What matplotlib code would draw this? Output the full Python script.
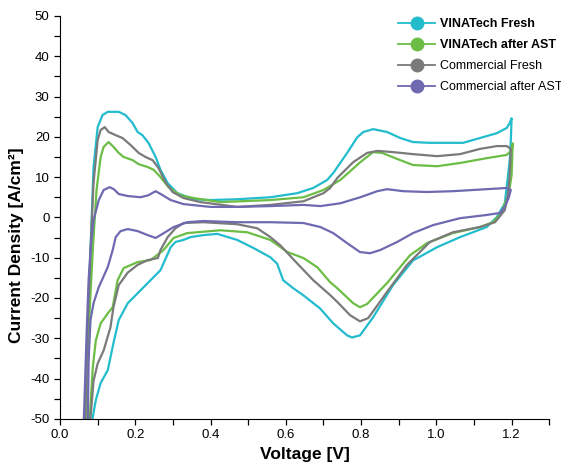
import numpy as np
import matplotlib
matplotlib.use('Agg')
import matplotlib.pyplot as plt

plt.rcParams['font.family'] = ['Liberation Sans', 'DejaVu Sans']
plt.rcParams['axes.unicode_minus'] = False

# CV loops: anodic scan (up) then cathodic scan (back), voltage [V], current density [A/cm2]
vina_fresh_v = [0.071, 0.076, 0.081, 0.089, 0.100, 0.113, 0.127, 0.156, 0.174, 0.193, 0.206, 0.219,
                0.235, 0.254, 0.267, 0.286, 0.312, 0.355, 0.400, 0.471, 0.559, 0.630, 0.673, 0.710,
                0.726, 0.763, 0.790, 0.806, 0.832, 0.869, 0.904, 0.938, 0.983, 1.028, 1.071, 1.116,
                1.161, 1.187, 1.195, 1.200,
                1.198, 1.195, 1.190, 1.182, 1.161, 1.134, 1.063, 1.002, 0.938, 0.885, 0.832, 0.797,
                0.776, 0.763, 0.726, 0.691, 0.646, 0.620, 0.593, 0.577, 0.559, 0.514, 0.471, 0.418,
                0.381, 0.347, 0.328, 0.307, 0.294, 0.267, 0.214, 0.180, 0.156, 0.142, 0.127, 0.108,
                0.095, 0.087, 0.085]
vina_fresh_j = [-51, -28, -8.1, 12.4, 22.4, 25.4, 26.2, 26.2, 25.4, 23.4, 21.2, 20.4,
                18.5, 15.0, 11.8, 8.5, 6.0, 4.5, 4.3, 4.5, 5.0, 6.0, 7.3, 9.3,
                11.0, 16.0, 19.9, 21.2, 21.9, 21.2, 19.7, 18.7, 18.5, 18.5, 18.5, 19.7,
                20.9, 22.2, 23.4, 24.6,
                19.2, 14.2, 10.0, 3.5, 0.1, -2.4, -4.9, -7.4, -10.7, -16.8, -24.8, -29.3,
                -29.8, -29.3, -26.3, -22.6, -19.3, -17.6, -15.6, -11.5, -9.9, -7.6, -5.6, -4.1,
                -4.4, -4.9, -5.6, -6.1, -7.4, -13.1, -18.1, -21.3, -25.5, -31.2, -37.9, -41.1,
                -45.4, -49.6, -51]

vina_ast_v = [0.068, 0.076, 0.087, 0.097, 0.108, 0.116, 0.129, 0.142, 0.156, 0.169, 0.193, 0.209,
              0.233, 0.249, 0.267, 0.288, 0.320, 0.355, 0.426, 0.559, 0.647, 0.700, 0.745, 0.798,
              0.832, 0.856, 0.896, 0.938, 1.002, 1.063, 1.134, 1.187, 1.200, 1.203,
              1.200, 1.192, 1.182, 1.174, 1.150, 1.116, 1.044, 0.975, 0.930, 0.869, 0.816, 0.797,
              0.779, 0.737, 0.718, 0.684, 0.647, 0.604, 0.559, 0.498, 0.426, 0.338, 0.302, 0.275,
              0.241, 0.206, 0.169, 0.153, 0.140, 0.127, 0.108, 0.095, 0.087, 0.079, 0.078]
vina_ast_j = [-51, -28, -8.1, 6.8, 15.0, 17.5, 18.7, 17.5, 16.0, 15.0, 14.2, 13.2,
              12.5, 11.8, 10.0, 7.5, 5.5, 4.8, 3.8, 4.3, 5.0, 6.8, 9.3, 13.7,
              16.2, 16.0, 14.5, 13.0, 12.7, 13.5, 14.7, 15.5, 16.7, 18.4,
              10.5, 5.5, 3.5, 1.1, -1.2, -2.4, -3.9, -6.4, -9.4, -16.3, -21.5, -22.3,
              -21.3, -17.6, -16.1, -12.4, -10.1, -8.6, -5.6, -3.7, -3.2, -3.9, -5.1, -8.1,
              -10.6, -11.1, -12.6, -15.6, -22.3, -23.8, -26.3, -30.6, -37.3, -49.8, -51]

comm_fresh_v = [0.066, 0.073, 0.081, 0.089, 0.100, 0.108, 0.119, 0.129, 0.148, 0.166, 0.187, 0.209,
                0.227, 0.246, 0.262, 0.280, 0.299, 0.328, 0.373, 0.471, 0.559, 0.647, 0.700, 0.718,
                0.737, 0.779, 0.816, 0.843, 0.885, 0.938, 1.002, 1.063, 1.116, 1.161, 1.187, 1.198,
                1.195, 1.190, 1.182, 1.156, 1.116, 1.044, 0.983, 0.922, 0.869, 0.819, 0.797, 0.771,
                0.737, 0.718, 0.673, 0.630, 0.585, 0.559, 0.524, 0.471, 0.381, 0.328, 0.307, 0.286,
                0.267, 0.260, 0.233, 0.206, 0.180, 0.156, 0.142, 0.134, 0.116, 0.100, 0.089, 0.081,
                0.080]
comm_fresh_j = [-51, -28, -8.2, 8.5, 19.2, 21.7, 22.4, 21.2, 20.4, 19.7, 18.0, 16.0,
                15.0, 14.2, 12.2, 8.8, 6.3, 4.8, 3.8, 2.6, 3.1, 4.0, 6.0, 7.3,
                9.8, 13.7, 16.0, 16.5, 16.2, 15.7, 15.2, 15.7, 17.0, 17.7, 17.7, 17.0,
                10.5, 5.5, 1.8, -1.2, -2.4, -3.7, -6.1, -11.8, -18.5, -25.0, -25.8, -24.3,
                -21.0, -19.3, -15.6, -11.4, -6.9, -4.9, -2.7, -1.7, -1.2, -1.4, -2.7, -4.9,
                -8.1, -10.1, -10.6, -11.8, -13.7, -16.8, -22.3, -27.3, -33.0, -36.3, -40.6, -49.8,
                -51]

comm_ast_v = [0.063, 0.071, 0.076, 0.081, 0.089, 0.103, 0.116, 0.132, 0.143, 0.156, 0.180, 0.214,
              0.235, 0.254, 0.273, 0.294, 0.328, 0.400, 0.471, 0.559, 0.647, 0.692, 0.745, 0.798,
              0.843, 0.869, 0.912, 0.975, 1.044, 1.134, 1.187, 1.198,
              1.192, 1.182, 1.169, 1.134, 1.063, 0.992, 0.938, 0.896, 0.851, 0.824, 0.797, 0.763,
              0.726, 0.692, 0.647, 0.559, 0.471, 0.381, 0.338, 0.302, 0.267, 0.254, 0.233, 0.206,
              0.180, 0.161, 0.148, 0.140, 0.127, 0.103, 0.089, 0.081, 0.076, 0.074, 0.074]
comm_ast_j = [-51, -28, -15.5, -8.1, -0.7, 4.3, 6.8, 7.5, 7.0, 5.8, 5.3, 5.0,
              5.5, 6.5, 5.5, 4.3, 3.3, 2.6, 2.6, 2.8, 3.1, 2.8, 3.5, 5.0,
              6.5, 7.0, 6.5, 6.3, 6.5, 7.0, 7.3, 6.8,
              4.8, 2.6, 1.1, 0.6, -0.2, -1.9, -3.9, -6.1, -8.1, -8.9, -8.6, -6.4,
              -3.9, -2.4, -1.4, -1.2, -1.2, -0.9, -1.2, -2.4, -4.4, -5.1, -4.4, -3.4,
              -2.9, -3.4, -4.9, -8.1, -12.3, -17.3, -21.3, -25.5, -35.3, -49.5, -51]

labels = ['VINATech Fresh', 'VINATech after AST', 'Commercial Fresh', 'Commercial after AST']
colors = ['#22bccd', '#6cbd45', '#7a7a7a', '#6e69b0']
series = [(vina_fresh_v, vina_fresh_j), (vina_ast_v, vina_ast_j),
          (comm_fresh_v, comm_fresh_j), (comm_ast_v, comm_ast_j)]

fig = plt.figure(figsize=(5.61, 4.69), dpi=100)
ax = fig.add_axes([0.107, 0.107, 0.872, 0.859])

handles = []
for (v, j), c, lab in zip(series, colors, labels):
    ax.plot(v, j, color=c, lw=1.6, solid_joinstyle='round', clip_on=True)
    h, = ax.plot([], [], color=c, lw=1.3, marker='o', ms=9, label=lab)
    handles.append(h)

ax.set_xlim(0, 1.3)
ax.set_ylim(-50, 50)
ax.set_xticks(np.arange(0, 1.31, 0.1), minor=True)
ax.set_xticks(np.arange(0, 1.21, 0.2))
ax.set_xticklabels(['0.0', '0.2', '0.4', '0.6', '0.8', '1.0', '1.2'])
ax.set_yticks(np.arange(-50, 51, 10))
ax.set_yticks(np.arange(-50, 51, 5), minor=True)
ax.tick_params(which='both', direction='out', length=4, width=0.9, labelsize=9.5)
ax.spines['top'].set_visible(False)
ax.spines['right'].set_visible(False)
ax.set_xlabel('Voltage [V]', fontsize=12.5, fontweight='bold', labelpad=4)
ax.set_ylabel('Current Density [A/cm²]', fontsize=12.5, fontweight='bold')
ax.yaxis.set_label_coords(-0.074, 0.43)

leg = fig.legend(handles=handles, loc='upper left', bbox_to_anchor=(0.69, 0.985),
                 frameon=False, fontsize=9, handlelength=2.95, handletextpad=0.4,
                 labelspacing=0.72)
for t in leg.get_texts()[:2]:
    t.set_fontweight('bold')

fig.savefig('out.png', dpi=100)
